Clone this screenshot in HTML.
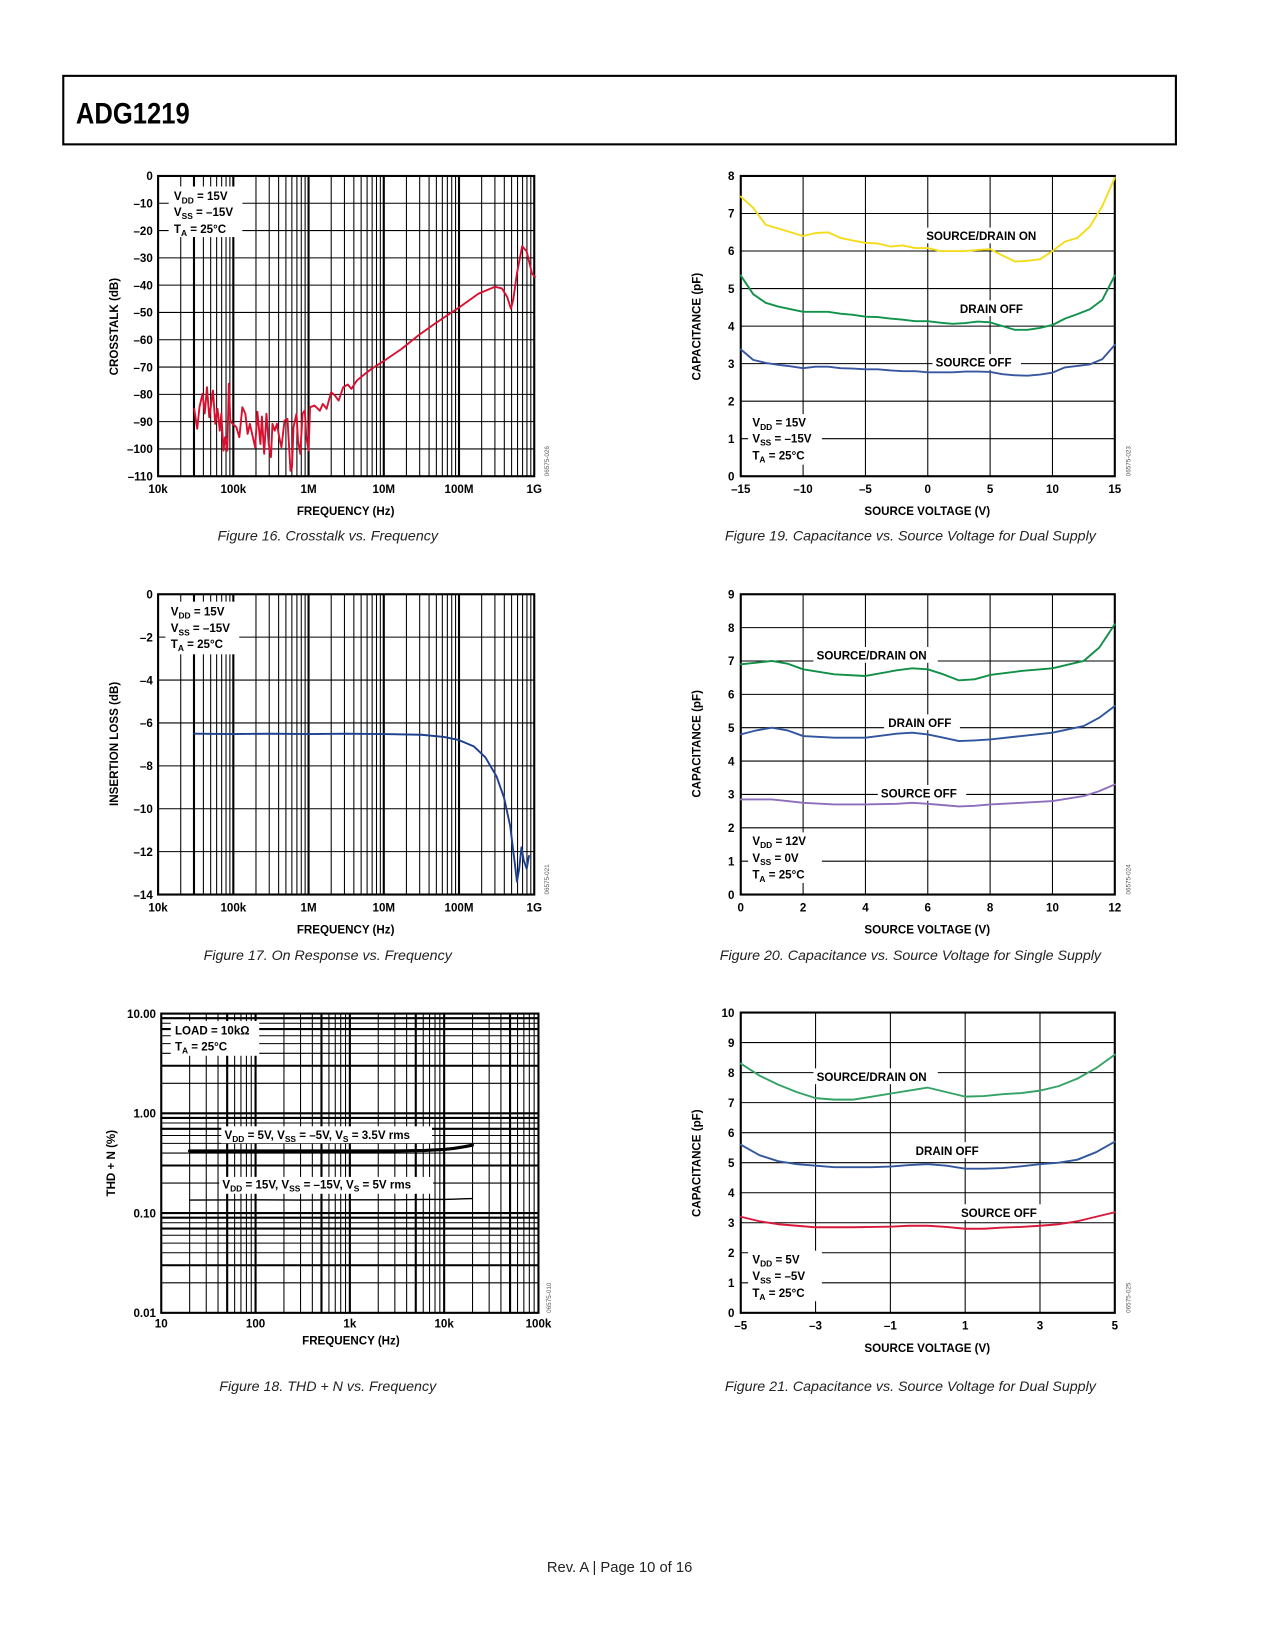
<!DOCTYPE html>
<html><head><meta charset="utf-8"><title>ADG1219 page 10</title>
<style>
html,body{margin:0;padding:0;background:#fff;}
svg{display:block;}
text{font-family:"Liberation Sans",Arial,sans-serif;}
.t{font-size:11px;font-weight:bold;fill:#000;}
.cap{font-size:13.5px;font-style:italic;fill:#222;}
.id{font-size:6px;fill:#555;}
</style></head>
<body>
<svg id="page" width="1275" height="1650" viewBox="0 0 1210 1566" xmlns="http://www.w3.org/2000/svg">
<rect x="0" y="0" width="1210" height="1566" fill="#fff"/>
<rect x="60" y="72" width="1056" height="65" fill="none" stroke="#000" stroke-width="2"/>
<text x="72" y="117" font-size="28" font-weight="bold" textLength="108" lengthAdjust="spacingAndGlyphs">ADG1219</text>

<g id="marks"></g>

<g id="labels">
<!-- Figure 16 -->
<g>
<rect x="160" y="177" width="70" height="48" fill="#fff"/>
<text class="t" x="165" y="190">V<tspan font-size="8" dy="3">DD</tspan><tspan dy="-3"> = 15V</tspan></text>
<text class="t" x="165" y="205">V<tspan font-size="8" dy="3">SS</tspan><tspan dy="-3"> = –15V</tspan></text>
<text class="t" x="165" y="221">T<tspan font-size="8" dy="3">A</tspan><tspan dy="-3"> = 25°C</tspan></text>
</g>
<text class="t" transform="translate(112,310) rotate(-90)" text-anchor="middle">CROSSTALK (dB)</text>
<text class="t" x="328" y="489" text-anchor="middle">FREQUENCY (Hz)</text>
<text class="cap" x="311" y="513" text-anchor="middle">Figure 16. Crosstalk vs. Frequency</text>
<text class="id" transform="translate(521,452) rotate(-90)">06575-026</text>

<!-- Figure 17 -->
<g>
<rect x="157" y="571" width="70" height="50" fill="#fff"/>
<text class="t" x="162" y="584">V<tspan font-size="8" dy="3">DD</tspan><tspan dy="-3"> = 15V</tspan></text>
<text class="t" x="162" y="600">V<tspan font-size="8" dy="3">SS</tspan><tspan dy="-3"> = –15V</tspan></text>
<text class="t" x="162" y="615">T<tspan font-size="8" dy="3">A</tspan><tspan dy="-3"> = 25°C</tspan></text>
</g>
<text class="t" transform="translate(112,706) rotate(-90)" text-anchor="middle">INSERTION LOSS (dB)</text>
<text class="t" x="328" y="886" text-anchor="middle">FREQUENCY (Hz)</text>
<text class="cap" x="311" y="911" text-anchor="middle">Figure 17. On Response vs. Frequency</text>
<text class="id" transform="translate(521,849) rotate(-90)">06575-021</text>

<!-- Figure 18 -->
<g>
<rect x="162" y="969" width="84" height="33" fill="#fff"/>
<text class="t" x="166" y="982">LOAD = 10kΩ</text>
<text class="t" x="166" y="997">T<tspan font-size="8" dy="3">A</tspan><tspan dy="-3"> = 25°C</tspan></text>
</g>
<g>
<rect x="210" y="1069" width="200" height="16" fill="#fff"/>
<text class="t" x="213" y="1081">V<tspan font-size="8" dy="3">DD</tspan><tspan dy="-3"> = 5V, V</tspan><tspan font-size="8" dy="3">SS</tspan><tspan dy="-3"> = –5V, V</tspan><tspan font-size="8" dy="3">S</tspan><tspan dy="-3"> = 3.5V rms</tspan></text>
</g>
<g>
<rect x="208" y="1117" width="203" height="16" fill="#fff"/>
<text class="t" x="211" y="1128">V<tspan font-size="8" dy="3">DD</tspan><tspan dy="-3"> = 15V, V</tspan><tspan font-size="8" dy="3">SS</tspan><tspan dy="-3"> = –15V, V</tspan><tspan font-size="8" dy="3">S</tspan><tspan dy="-3"> = 5V rms</tspan></text>
</g>
<text class="t" transform="translate(109,1104) rotate(-90)" text-anchor="middle">THD + N (%)</text>
<text class="t" x="333" y="1276" text-anchor="middle">FREQUENCY (Hz)</text>
<text class="cap" x="311" y="1320" text-anchor="middle">Figure 18. THD + N vs. Frequency</text>
<text class="id" transform="translate(523,1246) rotate(-90)">06575-010</text>

<!-- Figure 19 -->
<g>
<rect x="710" y="393" width="70" height="48" fill="#fff"/>
<text class="t" x="714" y="405">V<tspan font-size="8" dy="3">DD</tspan><tspan dy="-3"> = 15V</tspan></text>
<text class="t" x="714" y="420">V<tspan font-size="8" dy="3">SS</tspan><tspan dy="-3"> = –15V</tspan></text>
<text class="t" x="714" y="436">T<tspan font-size="8" dy="3">A</tspan><tspan dy="-3"> = 25°C</tspan></text>
</g>
<g><rect x="876" y="216" width="118" height="15" fill="#fff"/><text class="t" x="879" y="228">SOURCE/DRAIN ON</text></g>
<g><rect x="907" y="285" width="72" height="15" fill="#fff"/><text class="t" x="911" y="297">DRAIN OFF</text></g>
<g><rect x="885" y="336" width="84" height="15" fill="#fff"/><text class="t" x="888" y="348">SOURCE OFF</text></g>
<text class="t" transform="translate(665,310) rotate(-90)" text-anchor="middle">CAPACITANCE (pF)</text>
<text class="t" x="880" y="489" text-anchor="middle">SOURCE VOLTAGE (V)</text>
<text class="cap" x="864" y="513" text-anchor="middle">Figure 19. Capacitance vs. Source Voltage for Dual Supply</text>
<text class="id" transform="translate(1073,452) rotate(-90)">06575-023</text>

<!-- Figure 20 -->
<g>
<rect x="710" y="790" width="70" height="48" fill="#fff"/>
<text class="t" x="714" y="802">V<tspan font-size="8" dy="3">DD</tspan><tspan dy="-3"> = 12V</tspan></text>
<text class="t" x="714" y="818">V<tspan font-size="8" dy="3">SS</tspan><tspan dy="-3"> = 0V</tspan></text>
<text class="t" x="714" y="834">T<tspan font-size="8" dy="3">A</tspan><tspan dy="-3"> = 25°C</tspan></text>
</g>
<g><rect x="772" y="614" width="118" height="15" fill="#fff"/><text class="t" x="775" y="626">SOURCE/DRAIN ON</text></g>
<g><rect x="839" y="678" width="72" height="15" fill="#fff"/><text class="t" x="843" y="690">DRAIN OFF</text></g>
<g><rect x="833" y="745" width="84" height="15" fill="#fff"/><text class="t" x="836" y="757">SOURCE OFF</text></g>
<text class="t" transform="translate(665,706) rotate(-90)" text-anchor="middle">CAPACITANCE (pF)</text>
<text class="t" x="880" y="886" text-anchor="middle">SOURCE VOLTAGE (V)</text>
<text class="cap" x="864" y="911" text-anchor="middle">Figure 20. Capacitance vs. Source Voltage for Single Supply</text>
<text class="id" transform="translate(1073,849) rotate(-90)">06575-024</text>

<!-- Figure 21 -->
<g>
<rect x="710" y="1187" width="70" height="48" fill="#fff"/>
<text class="t" x="714" y="1199">V<tspan font-size="8" dy="3">DD</tspan><tspan dy="-3"> = 5V</tspan></text>
<text class="t" x="714" y="1215">V<tspan font-size="8" dy="3">SS</tspan><tspan dy="-3"> = –5V</tspan></text>
<text class="t" x="714" y="1231">T<tspan font-size="8" dy="3">A</tspan><tspan dy="-3"> = 25°C</tspan></text>
</g>
<g><rect x="772" y="1014" width="118" height="15" fill="#fff"/><text class="t" x="775" y="1026">SOURCE/DRAIN ON</text></g>
<g><rect x="866" y="1084" width="72" height="15" fill="#fff"/><text class="t" x="869" y="1096">DRAIN OFF</text></g>
<g><rect x="909" y="1143" width="84" height="15" fill="#fff"/><text class="t" x="912" y="1155">SOURCE OFF</text></g>
<text class="t" transform="translate(665,1104) rotate(-90)" text-anchor="middle">CAPACITANCE (pF)</text>
<text class="t" x="880" y="1283" text-anchor="middle">SOURCE VOLTAGE (V)</text>
<text class="cap" x="864" y="1320" text-anchor="middle">Figure 21. Capacitance vs. Source Voltage for Dual Supply</text>
<text class="id" transform="translate(1073,1246) rotate(-90)">06575-025</text>

<text x="588" y="1492" font-size="14" text-anchor="middle" fill="#222">Rev. A | Page 10 of 16</text>
</g>
</svg>

<script>
// ===== Data =====
const xtFreqExp = [4.48,4.52,4.55,4.59,4.62,4.65,4.68,4.70,4.73,4.76,4.79,4.82,4.84,4.87,4.89,4.92,4.94,4.96,4.99,5.04,5.08,5.12,5.16,5.19,5.22,5.26,5.29,5.32,5.36,5.38,5.41,5.44,5.47,5.50,5.52,5.55,5.58,5.61,5.64,5.68,5.72,5.76,5.78,5.80,5.84,5.86,5.89,5.92,5.95,5.97,6.00,6.02,6.08,6.15,6.19,6.24,6.30,6.35,6.40,6.46,6.52,6.57,6.64,6.75,6.84,7.01,7.24,7.46,7.68,8.01,8.26,8.48,8.57,8.64,8.69,8.72,8.77,8.84,8.90,8.97,9.01];
const xtDb = [-85.3,-92.6,-84.7,-79.8,-87,-77.4,-88.4,-84.7,-78.6,-90.8,-85.3,-93.3,-87.1,-100.6,-95.7,-100.6,-76.1,-89.6,-90.8,-92,-95.7,-84.7,-87.1,-94.5,-90.8,-95.7,-99.4,-86.4,-98.2,-88.1,-101.8,-87.1,-98.2,-103,-90.8,-93.3,-90.8,-95.7,-99.4,-89.6,-89,-108,-106.7,-92,-87.1,-96.9,-101.8,-87.1,-85.9,-95.7,-100.6,-84.7,-84.1,-86,-83.5,-85.3,-79.2,-80.4,-82.3,-77.4,-76.4,-78,-75,-72.5,-70.6,-67.6,-63.3,-58.4,-54.1,-48,-43.1,-40.6,-41.2,-44.3,-48.6,-45.5,-35.7,-25.7,-27.7,-35.7,-37];
const xtYTicks = [0,-10,-20,-30,-40,-50,-60,-70,-80,-90,-100,-110];
const freqTickLabels = ['10k','100k','1M','10M','100M','1G'];

const ilFreqExp = [4.48,5.0,5.5,6.0,6.5,7.0,7.5,7.8,8.0,8.2,8.35,8.5,8.6,8.68,8.74,8.77,8.8,8.83,8.86,8.9,8.93];
const ilDb = [-6.5,-6.52,-6.5,-6.52,-6.5,-6.52,-6.55,-6.65,-6.8,-7.1,-7.6,-8.5,-9.5,-10.8,-12.5,-13.4,-12.8,-11.8,-12.4,-12.8,-12.2];
const ilYTicks = [0,-2,-4,-6,-8,-10,-12,-14];

const thdFreqExp = [1.3,2.0,2.5,3.0,3.5,3.8,4.0,4.1,4.2,4.3];
const thd5V = [0.42,0.42,0.42,0.42,0.42,0.425,0.435,0.445,0.46,0.48];
const thd15V = [0.135,0.136,0.135,0.136,0.136,0.137,0.137,0.138,0.139,0.14];
const thdYTickLabels = ['10.00','1.00','0.10','0.01'];
const thdXTickLabels = ['10','100','1k','10k','100k'];

const c19V = [-15,-14,-13,-12,-11,-10,-9,-8,-7,-6,-5,-4,-3,-2,-1,0,1,2,3,4,5,6,7,8,9,10,11,12,13,14,15];
const c19On = [7.45,7.15,6.7,6.6,6.5,6.4,6.48,6.5,6.35,6.28,6.22,6.2,6.12,6.15,6.08,6.08,6.0,6.0,6.0,6.03,6.05,5.88,5.72,5.74,5.78,6.0,6.25,6.35,6.65,7.2,7.95];
const c19DrainOff = [5.35,4.85,4.62,4.52,4.45,4.38,4.38,4.38,4.33,4.3,4.25,4.24,4.2,4.17,4.13,4.13,4.09,4.06,4.08,4.12,4.1,4.0,3.9,3.9,3.95,4.03,4.2,4.32,4.45,4.7,5.35];
const c19SourceOff = [3.38,3.1,3.02,2.97,2.93,2.88,2.92,2.92,2.88,2.87,2.85,2.85,2.82,2.8,2.8,2.77,2.77,2.77,2.79,2.79,2.78,2.72,2.69,2.68,2.71,2.76,2.9,2.94,2.98,3.12,3.5];
const c19XTicks = [-15,-10,-5,0,5,10,15];
const c19YTicks = [0,1,2,3,4,5,6,7,8];

const c20V = [0,0.5,1,1.5,2,3,4,5,5.5,6,6.5,7,7.5,8,9,10,11,11.5,12];
const c20On = [6.9,6.95,7.0,6.92,6.75,6.6,6.55,6.72,6.78,6.75,6.6,6.42,6.45,6.58,6.7,6.78,7.0,7.4,8.1];
const c20DrainOff = [4.8,4.92,5.0,4.92,4.75,4.7,4.7,4.82,4.85,4.8,4.7,4.6,4.62,4.65,4.75,4.85,5.05,5.3,5.65];
const c20SourceOff = [2.85,2.85,2.85,2.8,2.75,2.7,2.7,2.72,2.75,2.72,2.68,2.64,2.66,2.7,2.75,2.8,2.95,3.1,3.3];
const c20XTicks = [0,2,4,6,8,10,12];
const c20YTicks = [0,1,2,3,4,5,6,7,8,9];

const c21V = [-5,-4.5,-4,-3.5,-3,-2.5,-2,-1.5,-1,-0.5,0,0.5,1,1.5,2,2.5,3,3.5,4,4.5,5];
const c21On = [8.3,7.9,7.6,7.35,7.15,7.1,7.1,7.2,7.3,7.4,7.5,7.35,7.2,7.22,7.28,7.32,7.4,7.55,7.8,8.15,8.6];
const c21DrainOff = [5.6,5.25,5.05,4.95,4.9,4.85,4.85,4.85,4.87,4.92,4.95,4.9,4.8,4.8,4.82,4.88,4.95,5.0,5.1,5.35,5.7];
const c21SourceOff = [3.2,3.05,2.95,2.9,2.85,2.85,2.85,2.86,2.87,2.9,2.9,2.86,2.8,2.8,2.84,2.86,2.9,2.95,3.05,3.2,3.35];
const c21XTicks = [-5,-3,-1,1,3,5];
const c21YTicks = [0,1,2,3,4,5,6,7,8,9,10];

// ===== Drawing =====
const NS = 'http://www.w3.org/2000/svg';
const marks = document.getElementById('marks');
function mk(tag, attrs, parent){
  const e = document.createElementNS(NS, tag);
  for (const k in attrs) e.setAttribute(k, attrs[k]);
  (parent || marks).appendChild(e);
  return e;
}
function lin(d0,d1,r0,r1){ return v => r0 + (v-d0)/(d1-d0)*(r1-r0); }
function pathD(xs, ys, fx, fy){
  return xs.map((x,i)=>(i?'L':'M')+fx(x).toFixed(2)+','+fy(ys[i]).toFixed(2)).join(' ');
}
function gridLine(x1,y1,x2,y2,w,name){
  const l = mk('line',{x1:x1,y1:y1,x2:x2,y2:y2,stroke:'#000','stroke-width':w});
  
  
  return l;
}
function tickText(x,y,txt,anchor,name){
  const t = mk('text',{x:x,y:y,'text-anchor':anchor,class:'t'});
  t.textContent = txt;
  
  
  return t;
}
function series(d, color, w, name){
  const p = mk('path',{d:d,fill:'none',stroke:color,'stroke-width':w,'stroke-linejoin':'round','stroke-linecap':'round'});
  
  
  return p;
}

function freqChart(prefix, top, bot, yTicks, xsExp, ys, color){
  const L=150, R=507;
  const fx = e => L + (e-4)/5*(R-L);
  const fy = lin(yTicks[0], yTicks[yTicks.length-1], top, bot);
  for (let dec=4; dec<9; dec++){
    for (let m=1; m<=9; m++){
      if (m===1 && dec===4) continue;
      const x = fx(dec + Math.log10(m));
      const thick = (m===1 || (dec===4 && m===3));
      gridLine(x, top, x, bot, thick?2:1, prefix+'-x-grid');
    }
  }
  yTicks.forEach((v,i)=>{
    if (i>0 && i<yTicks.length-1) gridLine(L, fy(v), R, fy(v), 1, prefix+'-y-grid');
    tickText(L-5, fy(v)+4, String(v).replace('-','–'), 'end', prefix+'-y-tick-label');
  });
  const frame = mk('rect',{x:L,y:top,width:R-L,height:bot-top,fill:'none',stroke:'#000','stroke-width':2});
  
  
  freqTickLabels.forEach((lab,i)=>{
    tickText(fx(4+i), bot+16, lab, 'middle', prefix+'-x-tick-label');
  });
  series(pathD(xsExp, ys, fx, v=>Math.min(bot,fy(v))), color, 1.8, prefix+'-curve');
}
freqChart('fig16', 167, 452, xtYTicks, xtFreqExp, xtDb, '#d8102f');
freqChart('fig17', 564, 849, ilYTicks, ilFreqExp, ilDb, '#1d3f8f');

(function(){
  const L=153, R=511, T=962, B=1246;
  const fx = e => L + (e-1)/4*(R-L);
  const fy = v => T + (1 - Math.log10(v))/3*(B-T);
  for (let dec=1; dec<5; dec++){
    for (let m=1; m<=9; m++){
      if (dec===1 && m===1) continue;
      const x = fx(dec+Math.log10(m));
      const thick = (m===1 || m===5);
      gridLine(x, T, x, B, thick?2:1, 'fig18-x-grid');
    }
  }
  for (let dec=-2; dec<1; dec++){
    for (let m=1; m<=9; m++){
      if (dec===-2 && m===1) continue;
      const y = fy(m*Math.pow(10,dec));
      const thick = (m===1 || m===3 || m===7 || m===9);
      gridLine(L, y, R, y, thick?2:1, 'fig18-y-grid');
    }
  }
  const frame = mk('rect',{x:L,y:T,width:R-L,height:B-T,fill:'none',stroke:'#000','stroke-width':2});
  
  
  thdYTickLabels.forEach((lab,i)=>{
    tickText(L-5, fy(Math.pow(10,1-i))+4, lab, 'end', 'fig18-y-tick-label');
  });
  thdXTickLabels.forEach((lab,i)=>{
    tickText(fx(1+i), B+14, lab, 'middle', 'fig18-x-tick-label');
  });
  series(pathD(thdFreqExp, thd5V, fx, fy), '#000', 3, 'fig18-curve-5v');
  series(pathD(thdFreqExp, thd15V, fx, fy), '#000', 1.3, 'fig18-curve-15v');
})();

function capChart(prefix, T, B, xTicks, yTicks, xs, sets){
  const L=703, R=1058;
  const fx = lin(xTicks[0], xTicks[xTicks.length-1], L, R);
  const fy = lin(yTicks[0], yTicks[yTicks.length-1], B, T);
  xTicks.forEach((v,i)=>{
    if (i>0 && i<xTicks.length-1) gridLine(fx(v), T, fx(v), B, 1, prefix+'-x-grid');
    tickText(fx(v), B+16, String(v).replace('-','–'), 'middle', prefix+'-x-tick-label');
  });
  yTicks.forEach((v,i)=>{
    if (i>0 && i<yTicks.length-1) gridLine(L, fy(v), R, fy(v), 1, prefix+'-y-grid');
    tickText(L-6, fy(v)+4, String(v), 'end', prefix+'-y-tick-label');
  });
  const frame = mk('rect',{x:L,y:T,width:R-L,height:B-T,fill:'none',stroke:'#000','stroke-width':2});
  
  
  sets.forEach(s=>{
    series(pathD(xs, s.ys, fx, fy), s.color, 1.8, prefix+'-'+s.name);
  });
}
capChart('fig19', 167, 452, c19XTicks, c19YTicks, c19V, [
  {ys:c19On, color:'#f4dc1c', name:'source-drain-on'},
  {ys:c19DrainOff, color:'#10934a', name:'drain-off'},
  {ys:c19SourceOff, color:'#3857a0', name:'source-off'}]);
capChart('fig20', 564, 849, c20XTicks, c20YTicks, c20V, [
  {ys:c20On, color:'#128f46', name:'source-drain-on'},
  {ys:c20DrainOff, color:'#2f559e', name:'drain-off'},
  {ys:c20SourceOff, color:'#8e6dbd', name:'source-off'}]);
capChart('fig21', 961, 1246, c21XTicks, c21YTicks, c21V, [
  {ys:c21On, color:'#35a266', name:'source-drain-on'},
  {ys:c21DrainOff, color:'#33579c', name:'drain-off'},
  {ys:c21SourceOff, color:'#d8183a', name:'source-off'}]);
</script>
</body></html>
